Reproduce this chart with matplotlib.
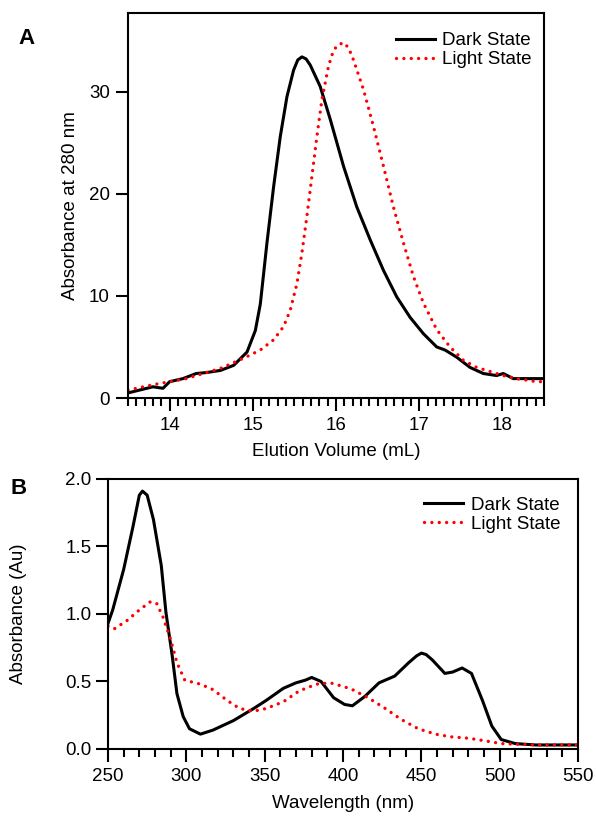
import numpy as np
import matplotlib.pyplot as plt

plt.rcParams['font.family'] = ['Liberation Sans', 'DejaVu Sans']
plt.rcParams['font.size'] = 13.5

# panel A: size exclusion elution
vol_dark = [13.50, 13.80, 13.92, 14.00, 14.16, 14.32, 14.45, 14.61, 14.77, 14.93, 15.03, 15.09,
            15.17, 15.25, 15.33, 15.41, 15.49, 15.54, 15.59, 15.64, 15.69, 15.81, 15.93, 16.09,
            16.25, 16.41, 16.57, 16.73, 16.89, 17.05, 17.21, 17.31, 17.45, 17.61, 17.77, 17.93,
            18.01, 18.13, 18.50]
abs_dark = [0.5, 1.1, 0.95, 1.6, 1.9, 2.4, 2.5, 2.7, 3.2, 4.5, 6.6, 9.2,
            15.2, 20.7, 25.6, 29.5, 32.1, 33.1, 33.4, 33.2, 32.6, 30.5, 27.3, 22.7,
            18.7, 15.5, 12.5, 9.9, 7.9, 6.3, 5.0, 4.7, 4.0, 3.0, 2.4, 2.2,
            2.4, 1.9, 1.9]

vol_light = [13.50, 13.80, 14.20, 14.61, 14.89, 15.09, 15.25, 15.37, 15.45, 15.53, 15.59, 15.65,
             15.71, 15.77, 15.83, 15.91, 15.96, 16.01, 16.09, 16.15, 16.21, 16.33, 16.45, 16.57,
             16.69, 16.81, 16.93, 17.05, 17.21, 17.37, 17.53, 17.69, 17.85, 18.01, 18.17, 18.41,
             18.50]
abs_light = [0.78, 1.3, 1.9, 2.9, 3.9, 4.7, 5.7, 7.0, 8.6, 11.2, 14.2, 17.8,
             21.7, 25.6, 29.2, 32.5, 33.8, 34.5, 34.8, 34.3, 33.1, 30.2, 26.6, 22.7,
             18.7, 15.2, 11.9, 9.3, 6.7, 5.0, 3.7, 3.0, 2.6, 2.2, 1.9, 1.6,
             1.6]

# panel B: UV-vis spectra
wl_dark = [250, 253, 260, 266, 270, 272, 275, 279, 284, 287, 291, 294, 298, 302, 309, 317, 330,
           343, 351, 362, 370, 376, 380, 386, 394, 401, 406, 414, 423, 433, 442, 447, 450, 453,
           457, 465, 470, 476, 482, 489, 495, 501, 510, 523, 550]
ab_dark = [0.93, 1.03, 1.33, 1.65, 1.88, 1.91, 1.88, 1.70, 1.36, 1.01, 0.69, 0.41, 0.24, 0.15,
           0.11, 0.14, 0.21, 0.30, 0.36, 0.45, 0.49, 0.51, 0.53, 0.50, 0.38, 0.33, 0.32, 0.39,
           0.49, 0.54, 0.64, 0.69, 0.71, 0.70, 0.66, 0.56, 0.57, 0.60, 0.56, 0.36, 0.17, 0.07,
           0.04, 0.03, 0.03]

wl_light = [250, 254, 262, 270, 277, 281, 285, 290, 294, 299, 309, 317, 326, 334, 343, 351, 362,
            372, 383, 392, 401, 406, 416, 427, 437, 448, 459, 469, 480, 491, 501, 523, 550]
ab_light = [0.91, 0.89, 0.95, 1.03, 1.09, 1.08, 0.98, 0.81, 0.64, 0.51, 0.48, 0.44, 0.36, 0.30,
            0.28, 0.30, 0.35, 0.43, 0.48, 0.49, 0.46, 0.44, 0.38, 0.30, 0.22, 0.15, 0.11, 0.09,
            0.08, 0.06, 0.04, 0.03, 0.03]

fig = plt.figure(figsize=(5.96, 8.21), dpi=100)
axA = fig.add_axes([0.2148, 0.5152, 0.6980, 0.4690])
axB = fig.add_axes([0.1812, 0.0877, 0.7886, 0.3289])

dot = (0, (0.01, 2.2))
for ax in (axA, axB):
    for sp in ax.spines.values():
        sp.set_linewidth(1.5)
    ax.tick_params(which='major', direction='out', length=9, width=1.5)
    ax.tick_params(which='minor', direction='out', length=5.5, width=1.5)
    ax.tick_params(axis='y', which='minor', left=False)

axA.plot(vol_dark, abs_dark, color='black', lw=2.2, label='Dark State')
axA.plot(vol_light, abs_light, color='red', lw=2.4, linestyle=dot, dash_capstyle='round',
         label='Light State')
axA.set_xlim(13.5, 18.5)
axA.set_ylim(0, 37.7)
axA.set_xticks([14, 15, 16, 17, 18])
axA.set_xticks(np.arange(13.5, 18.51, 0.1), minor=True)
axA.set_yticks([0, 10, 20, 30])
axA.tick_params(axis='x', pad=5)
axA.tick_params(axis='y', pad=4)
axA.set_xlabel('Elution Volume (mL)')
axA.set_ylabel('Absorbance at 280 nm')
axA.xaxis.set_label_coords(0.5, -0.118)
axA.yaxis.set_label_coords(-0.118, 0.5)
axA.legend(loc='upper right', bbox_to_anchor=(0.971, 0.95), frameon=False, borderpad=0,
           borderaxespad=0, handlelength=2.1, handletextpad=0.4, labelspacing=0.1)

axB.plot(wl_dark, ab_dark, color='black', lw=2.2, label='Dark State')
axB.plot(wl_light, ab_light, color='red', lw=2.4, linestyle=dot, dash_capstyle='round',
         label='Light State')
axB.set_xlim(250, 550)
axB.set_ylim(0, 2.0)
axB.set_xticks(np.arange(250, 551, 50))
axB.set_xticks(np.arange(250, 551, 10), minor=True)
axB.set_yticks([0.0, 0.5, 1.0, 1.5, 2.0])
axB.yaxis.set_major_formatter(plt.FormatStrFormatter('%.1f'))
axB.tick_params(axis='x', pad=5)
axB.tick_params(axis='y', pad=3)
axB.set_xlabel('Wavelength (nm)')
axB.set_ylabel('Absorbance (Au)')
axB.xaxis.set_label_coords(0.5, -0.172)
axB.yaxis.set_label_coords(-0.172, 0.5)
axB.legend(loc='upper right', bbox_to_anchor=(0.962, 0.935), frameon=False, borderpad=0,
           borderaxespad=0, handlelength=2.1, handletextpad=0.4, labelspacing=0.1)

fig.text(18 / 596, 1 - 38 / 821, 'A', fontsize=16, fontweight='bold', va='center')
fig.text(10 / 596, 1 - 488 / 821, 'B', fontsize=16, fontweight='bold', va='center')

plt.savefig('out.png', dpi=100)
